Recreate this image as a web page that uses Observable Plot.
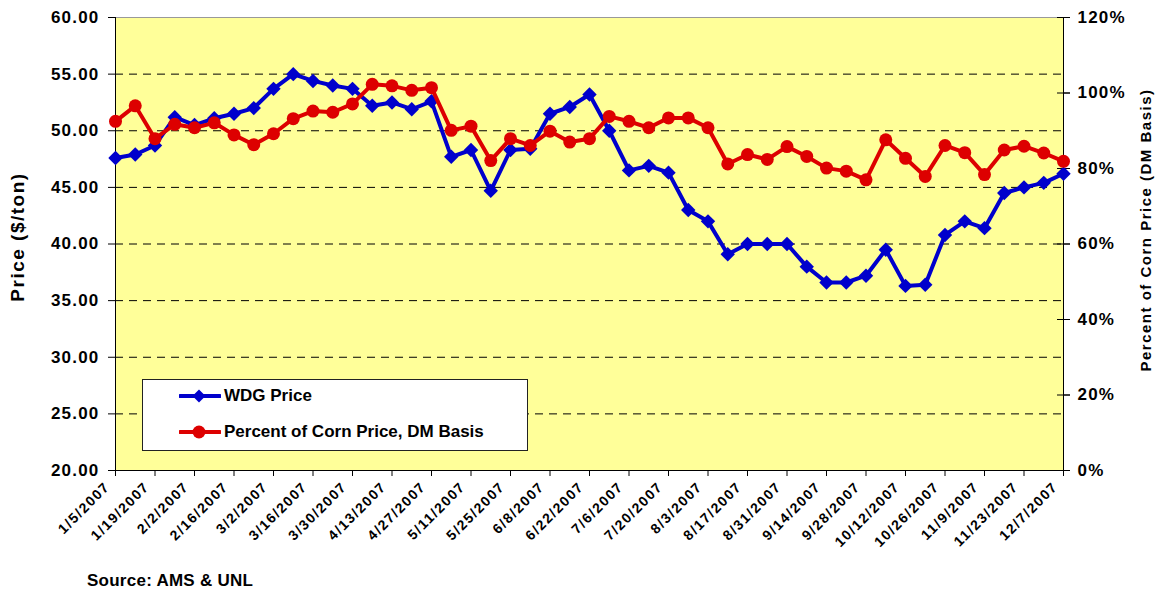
<!DOCTYPE html>
<html><head><meta charset="utf-8">
<script src="https://cdn.jsdelivr.net/npm/d3@7"></script>
<script src="https://cdn.jsdelivr.net/npm/@observablehq/plot@0.6"></script>
<style>
body{margin:0;background:#fff;font-family:"Liberation Sans",Arial,sans-serif;}
#wrap{position:relative;width:1159px;height:594px;overflow:hidden;}
#wrap > svg{position:absolute;left:0;top:0;}
.ttl{position:absolute;font-weight:bold;white-space:nowrap;transform:translate(-50%,-50%) rotate(-90deg);}
#legend{position:absolute;left:142px;top:379px;width:384px;height:70px;border:1px solid #222;background:#fff;}
#legend .lrow{position:absolute;left:0;height:20px;}
#legend .lrow svg{position:absolute;left:36px;top:0;}
#legend .lrow span{position:absolute;left:81px;top:0;line-height:20px;font-size:17px;font-weight:bold;white-space:nowrap;}
#source{position:absolute;left:87px;top:571px;font-size:17px;font-weight:bold;line-height:20px;letter-spacing:0.25px;}
g[aria-label="y-axis tick label"] text{letter-spacing:1.2px;}
g[aria-label="x-axis tick label"] text{letter-spacing:1.5px;}
</style></head><body><div id="wrap"></div>
<script>
const dates = ["1/5/2007","1/12/2007","1/19/2007","1/26/2007","2/2/2007","2/9/2007","2/16/2007","2/23/2007",
"3/2/2007","3/9/2007","3/16/2007","3/23/2007","3/30/2007","4/6/2007","4/13/2007","4/20/2007","4/27/2007",
"5/4/2007","5/11/2007","5/18/2007","5/25/2007","6/1/2007","6/8/2007","6/15/2007","6/22/2007","6/29/2007",
"7/6/2007","7/13/2007","7/20/2007","7/27/2007","8/3/2007","8/10/2007","8/17/2007","8/24/2007","8/31/2007",
"9/7/2007","9/14/2007","9/21/2007","9/28/2007","10/5/2007","10/12/2007","10/19/2007","10/26/2007",
"11/2/2007","11/9/2007","11/16/2007","11/23/2007","11/30/2007","12/7/2007"];
const wdgPrice = [47.6,47.9,48.7,51.2,50.5,51.1,51.5,52.0,53.7,55.0,54.4,54.0,53.7,52.2,52.5,51.9,52.6,
47.7,48.3,44.7,48.3,48.4,51.5,52.1,53.2,50.0,46.5,46.9,46.3,43.0,42.0,39.1,40.0,40.0,40.0,
38.0,36.6,36.6,37.2,39.5,36.3,36.4,40.8,42.0,41.4,44.5,45.0,45.4,46.2];
const pctCorn = [92.5,96.6,87.9,91.7,90.8,92.1,88.9,86.3,89.2,93.2,95.2,94.9,97.1,102.3,101.9,100.7,101.4,
90.1,91.2,82.1,87.9,86.1,89.9,87.0,87.9,93.8,92.5,90.8,93.4,93.4,90.8,81.2,83.7,82.4,85.8,
83.2,80.1,79.3,77.0,87.6,82.7,77.9,86.1,84.2,78.4,84.9,85.9,84.1,81.9];
const xTickLabels = ["1/5/2007","1/19/2007","2/2/2007","2/16/2007","3/2/2007","3/16/2007","3/30/2007",
"4/13/2007","4/27/2007","5/11/2007","5/25/2007","6/8/2007","6/22/2007","7/6/2007","7/20/2007","8/3/2007",
"8/17/2007","8/31/2007","9/14/2007","9/28/2007","10/12/2007","10/26/2007","11/9/2007","11/23/2007","12/7/2007"];
const leftTicks = [20,25,30,35,40,45,50,55,60];
const gridLines = [25,30,35,40,45,50,55];
const rightTicks = [0,20,40,60,80,100,120];
const leftTitle = "Price ($/ton)";
const rightTitle = "Percent of Corn Price (DM Basis)";
const legendLabels = ["WDG Price","Percent of Corn Price, DM Basis"];
const sourceText = "Source: AMS & UNL";
const colors = {wdg:"#0000CC", pct:"#DD0000", plotBg:"#FFFF99"};

const parse = d3.utcParse("%m/%d/%Y");
const leftDomain = [20,60], rightDomain = [0,120];
const toLeft = p => leftDomain[0] + (p - rightDomain[0]) * (leftDomain[1]-leftDomain[0]) / (rightDomain[1]-rightDomain[0]);
const fromLeft = v => rightDomain[0] + (v - leftDomain[0]) * (rightDomain[1]-rightDomain[0]) / (leftDomain[1]-leftDomain[0]);
const rows = dates.map((d,i)=>({date:parse(d), wdg:wdgPrice[i], pctY:toLeft(pctCorn[i])}));
const xDom = [rows[0].date, rows[rows.length-1].date];
const fmt = d3.utcFormat("%-m/%-d/%Y");

const chart = Plot.plot({
  width:1159, height:555, marginTop:17, marginBottom:85, marginLeft:115, marginRight:96,
  style:{fontFamily:"'Liberation Sans', Arial, sans-serif", fontWeight:"bold", color:"#000", background:"transparent", overflow:"visible"},
  x:{type:"utc", domain:xDom},
  y:{domain:leftDomain},
  marks:[
    Plot.frame({fill:colors.plotBg}),
    Plot.ruleY(gridLines,{stroke:"#000", strokeDasharray:"8,6", strokeWidth:1}),
    Plot.frame({stroke:"#999"}),
    Plot.ruleX(xDom,{stroke:"#000"}),
    Plot.ruleY([leftDomain[0]],{stroke:"#000"}),
    Plot.axisY({anchor:"left", ticks:leftTicks, tickFormat:d=>d.toFixed(2), tickSize:7, tickPadding:9, fontSize:17, label:null}),
    Plot.axisY({anchor:"right", ticks:rightTicks.map(toLeft), tickSize:13, dx:-7, tickFormat:()=>"", label:null}),
    Plot.axisY({anchor:"right", ticks:rightTicks.map(toLeft), tickFormat:v=>Math.round(fromLeft(v))+"%", tickSize:6, tickPadding:8, fontSize:17, label:null}),
    Plot.axisX({anchor:"bottom", ticks:xTickLabels.map(parse), tickFormat:()=>"", tickSize:6, label:null}),
    Plot.axisX({anchor:"bottom", ticks:xTickLabels.map(parse), tickFormat:fmt, tickRotate:-45, tickSize:0, tickPadding:14, dx:-8, fontSize:14, label:null}),
    Plot.line(rows,{x:"date", y:"wdg", stroke:colors.wdg, strokeWidth:4}),
    Plot.dot(rows,{x:"date", y:"wdg", symbol:"diamond2", r:6.5, fill:colors.wdg, stroke:"none"}),
    Plot.line(rows,{x:"date", y:"pctY", stroke:colors.pct, strokeWidth:4}),
    Plot.dot(rows,{x:"date", y:"pctY", symbol:"circle", r:6.5, fill:colors.pct, stroke:"none"})
  ]
});
const wrap = document.getElementById("wrap");
wrap.appendChild(chart);

function addTitle(text, cx, cy, size, ls){
  const d = document.createElement("div");
  d.className = "ttl"; d.textContent = text;
  d.style.left = cx+"px"; d.style.top = cy+"px"; d.style.fontSize = size+"px"; d.style.letterSpacing = ls+"px";
  wrap.appendChild(d);
}
addTitle(leftTitle, 18, 237, 19, 1.5);
addTitle(rightTitle, 1145, 230, 15, 1.5);

const legend = document.createElement("div");
legend.id = "legend";
const legendColors = [colors.wdg, colors.pct];
const legendSymbols = ["diamond","circle"];
const rowTops = [6, 42];
legendLabels.forEach((lab,i)=>{
  const r = document.createElement("div");
  r.className = "lrow"; r.style.top = rowTops[i]+"px"; r.style.width = "380px";
  const c = legendColors[i];
  const mk = legendSymbols[i]==="diamond"
    ? `<path d="M20,3.5 L26.5,10 L20,16.5 L13.5,10 Z" fill="${c}"/>`
    : `<circle cx="20" cy="10" r="6.5" fill="${c}"/>`;
  r.innerHTML = `<svg width="42" height="20"><line x1="1" y1="10" x2="41" y2="10" stroke="${c}" stroke-width="4" stroke-linecap="round"/>${mk}</svg><span>${lab}</span>`;
  legend.appendChild(r);
});
wrap.appendChild(legend);

const src = document.createElement("div");
src.id = "source"; src.textContent = sourceText;
wrap.appendChild(src);
</script>
</body></html>
